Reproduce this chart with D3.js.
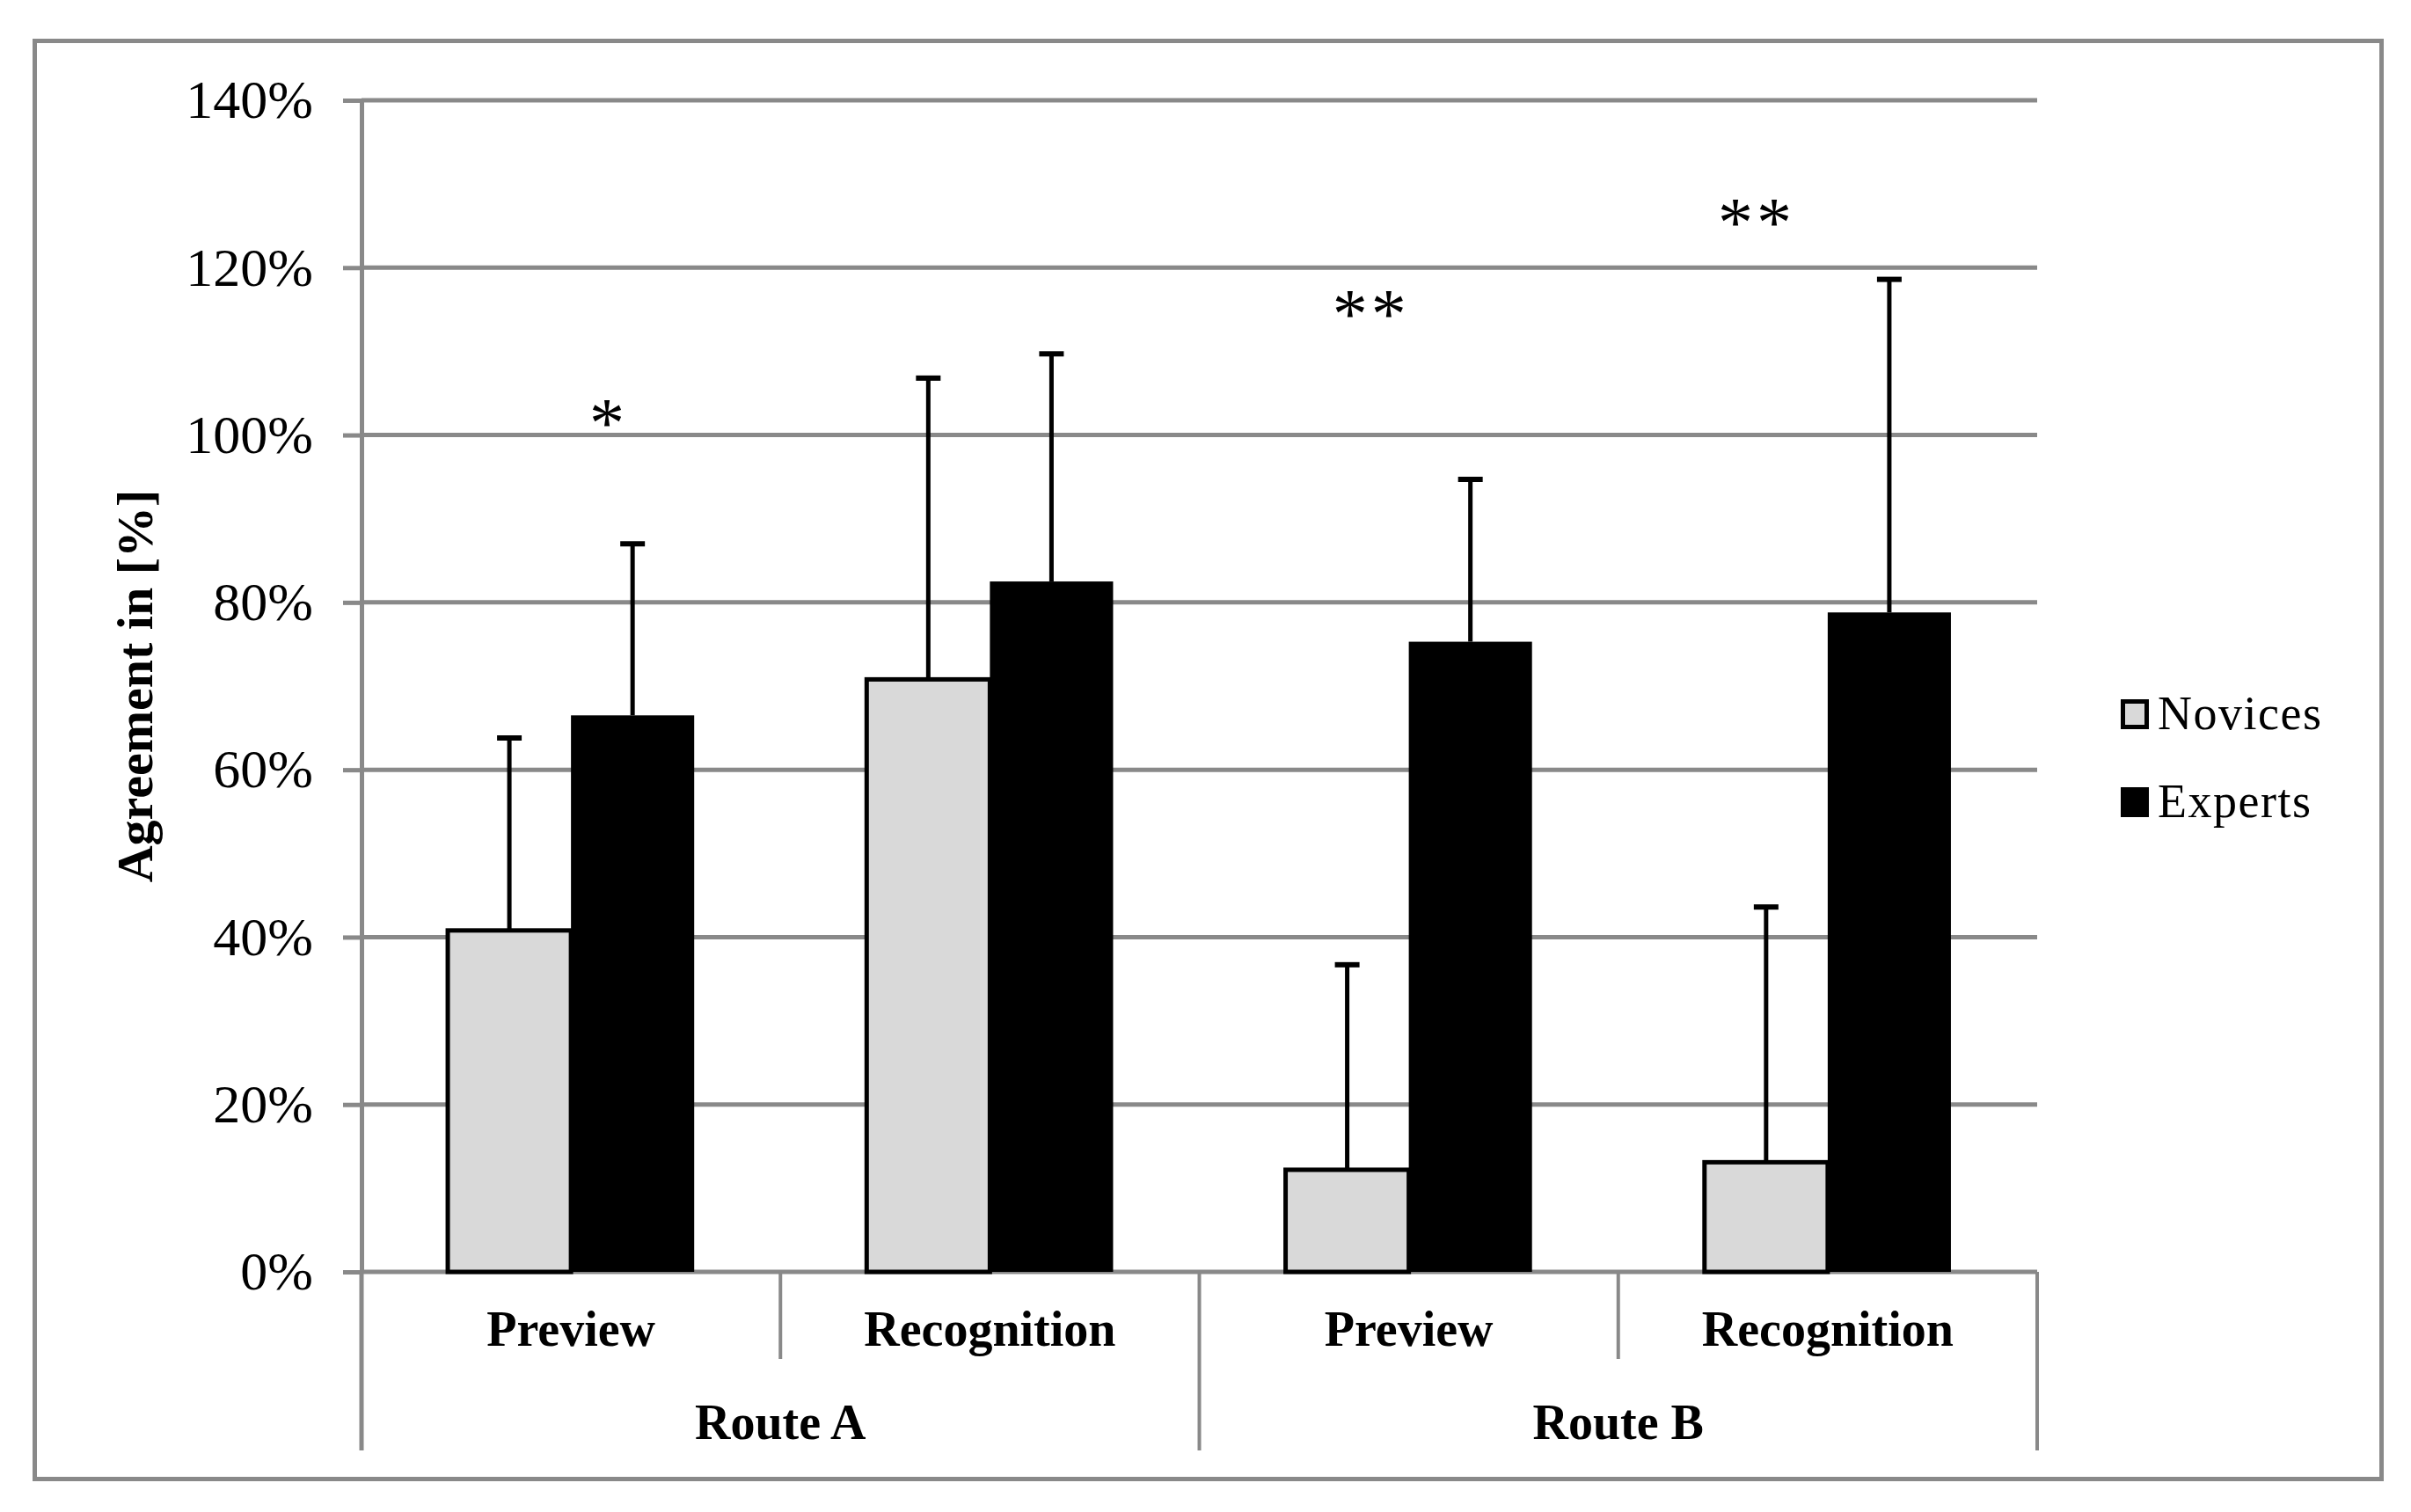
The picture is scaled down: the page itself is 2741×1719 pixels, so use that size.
<!DOCTYPE html>
<html>
<head>
<meta charset="utf-8">
<script src="https://cdn.jsdelivr.net/npm/d3@7"></script>
<style>
  body { margin: 0; background: #fff; }
  text { font-family: "Liberation Serif", "Times New Roman", serif; fill: #000; }
</style>
</head>
<body>
<div id="chart"></div>
<script>
// values, in percent
const categories = ['Preview', 'Recognition', 'Preview', 'Recognition'];
const routes = ['Route A', 'Route B'];
const series = ['Novices', 'Experts'];
const noviceMean = [40.8, 70.8, 12.2, 13.1];
const noviceErr = [23.0, 36.0, 24.5, 30.5];
const expertMean = [66.5, 82.5, 75.3, 78.8];
const expertErr = [20.5, 27.2, 19.4, 39.8];
const yTicks = [0, 20, 40, 60, 80, 100, 120, 140];
// significance marks: label, category index, where in the band, height in %
const sigLabels = ['*', '**', '**'];
const sigCategory = [0, 2, 3];
const sigBandPos = [0.59, 0.41, 0.33];
const sigLevel = [98.6, 111.6, 122.6];

const W = 2741, H = 1719;
const grey = '#898989';
const plotLeft = 411, plotRight = 2316, plotTop = 114, plotBottom = 1446;

const svg = d3.select('#chart').append('svg')
  .attr('width', W).attr('height', H);

svg.append('rect')
  .attr('x', 39.5).attr('y', 46.5)
  .attr('width', 2668).attr('height', 1635)
  .attr('fill', '#fff').attr('stroke', grey).attr('stroke-width', 5);

const x = d3.scaleBand().domain(d3.range(categories.length)).range([plotLeft, plotRight]);
const xs = d3.scaleBand().domain(series).range([0, x.bandwidth()])
  .paddingInner(0).paddingOuter(0.7);
const y = d3.scaleLinear().domain([0, 140]).range([plotBottom, plotTop]);

// gridlines
svg.append('g').selectAll('line').data(yTicks).join('line')
  .attr('x1', plotLeft).attr('x2', plotRight)
  .attr('y1', d => y(d)).attr('y2', d => y(d))
  .attr('stroke', grey).attr('stroke-width', 5);

// y axis
const yAxis = svg.append('g')
  .attr('transform', `translate(${plotLeft},0)`)
  .call(d3.axisLeft(y).tickValues(yTicks).tickSize(21).tickSizeOuter(0)
    .tickPadding(34).tickFormat(d => d + '%'));
yAxis.select('.domain').attr('stroke', grey).attr('stroke-width', 5);
yAxis.selectAll('.tick line').attr('stroke', grey).attr('stroke-width', 5);
yAxis.selectAll('.tick text')
  .style('font-family', '"Liberation Serif", "Times New Roman", serif')
  .style('font-size', '62px').attr('fill', '#000');

// category separators below the axis
const sepShort = [1, 3].map(i => x(i));
const sepLong = [0, 2].map(i => x(i)).concat([plotRight]);
svg.append('g').selectAll('line').data(sepShort).join('line')
  .attr('x1', d => d).attr('x2', d => d)
  .attr('y1', plotBottom).attr('y2', 1545)
  .attr('stroke', grey).attr('stroke-width', 4);
svg.append('g').selectAll('line').data(sepLong).join('line')
  .attr('x1', d => d).attr('x2', d => d)
  .attr('y1', plotBottom).attr('y2', 1649)
  .attr('stroke', grey).attr('stroke-width', d => d === plotLeft ? 5 : 4);

// bars
const rows = categories.map((c, i) => ({
  i,
  values: [
    { key: 'Novices', mean: noviceMean[i], err: noviceErr[i] },
    { key: 'Experts', mean: expertMean[i], err: expertErr[i] }
  ]
}));
const groups = svg.append('g').selectAll('g').data(rows).join('g')
  .attr('transform', d => `translate(${x(d.i)},0)`);

groups.selectAll('rect').data(d => d.values).join('rect')
  .attr('x', d => xs(d.key))
  .attr('width', xs.bandwidth())
  .attr('y', d => y(d.mean))
  .attr('height', d => y(0) - y(d.mean))
  .attr('fill', d => d.key === 'Novices' ? '#d9d9d9' : '#000')
  .attr('stroke', '#000')
  .attr('stroke-width', d => d.key === 'Novices' ? 5 : 0);

// error bars (upper only)
const eb = groups.selectAll('g.err').data(d => d.values).join('g').attr('class', 'err');
eb.append('line')
  .attr('x1', d => xs(d.key) + xs.bandwidth() / 2)
  .attr('x2', d => xs(d.key) + xs.bandwidth() / 2)
  .attr('y1', d => y(d.mean)).attr('y2', d => y(d.mean + d.err))
  .attr('stroke', '#000').attr('stroke-width', 5);
eb.append('line')
  .attr('x1', d => xs(d.key) + xs.bandwidth() / 2 - 14)
  .attr('x2', d => xs(d.key) + xs.bandwidth() / 2 + 14)
  .attr('y1', d => y(d.mean + d.err)).attr('y2', d => y(d.mean + d.err))
  .attr('stroke', '#000').attr('stroke-width', 6);

// significance marks
svg.append('g').selectAll('text').data(sigLabels).join('text')
  .attr('x', (d, k) => x(sigCategory[k]) + sigBandPos[k] * x.bandwidth())
  .attr('y', (d, k) => y(sigLevel[k]))
  .attr('text-anchor', 'middle')
  .style('font-size', '80px')
  .style('letter-spacing', '4px')
  .text(d => d);

// category labels
svg.append('g').selectAll('text').data(categories).join('text')
  .attr('x', (d, i) => x(i) + x.bandwidth() / 2)
  .attr('y', 1530)
  .attr('text-anchor', 'middle')
  .style('font-size', '56px').style('font-weight', 'bold')
  .text(d => d);

svg.append('g').selectAll('text').data(routes).join('text')
  .attr('x', (d, i) => x(i * 2 + 1))
  .attr('y', 1636)
  .attr('text-anchor', 'middle')
  .style('font-size', '56px').style('font-weight', 'bold')
  .text(d => d);

// y title
svg.append('text')
  .attr('transform', `translate(173,${(plotTop + plotBottom) / 2}) rotate(-90)`)
  .attr('text-anchor', 'middle')
  .style('font-size', '58px').style('font-weight', 'bold')
  .text('Agreement in [%]');

// legend
const legend = svg.append('g').selectAll('g').data(series).join('g')
  .attr('transform', (d, i) => `translate(2411,${795 + i * 100})`);
legend.append('rect')
  .attr('x', d => d === 'Novices' ? 2.5 : 0)
  .attr('y', d => d === 'Novices' ? 2.5 : 0)
  .attr('width', d => d === 'Novices' ? 27 : 32)
  .attr('height', d => d === 'Novices' ? 29 : 34)
  .attr('fill', d => d === 'Novices' ? '#d9d9d9' : '#000')
  .attr('stroke', '#000')
  .attr('stroke-width', d => d === 'Novices' ? 5 : 0);
legend.append('text')
  .attr('x', 42).attr('y', 34)
  .style('font-size', '54px')
  .style('letter-spacing', '1.5px')
  .text(d => d);
</script>
</body>
</html>
